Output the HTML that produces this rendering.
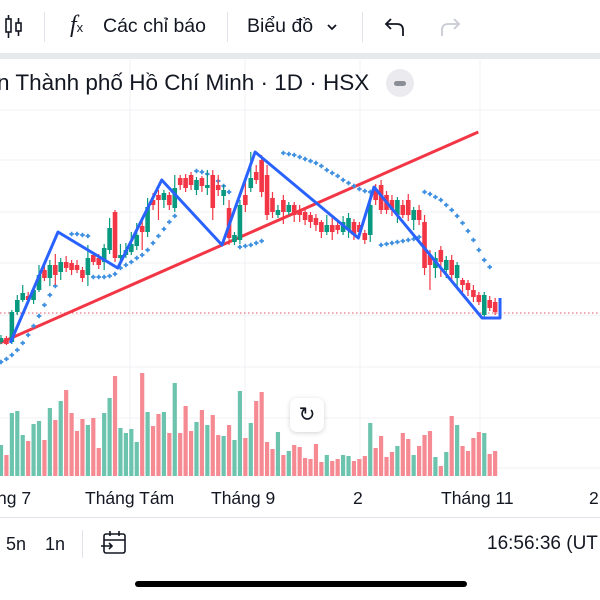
<!DOCTYPE html>
<html><head><meta charset="utf-8">
<style>
body{margin:0;width:600px;height:600px;overflow:hidden;background:#fff;font-family:"Liberation Sans","Noto Sans CJK SC",sans-serif;position:relative}
.t{position:absolute;white-space:nowrap;color:#131722}
</style></head><body>
<div style="position:absolute;left:0;top:0;width:600px;height:53px;background:#fff"></div>
<svg style="position:absolute;left:4px;top:14px" width="20" height="26" viewBox="0 0 20 26"><rect x="2" y="5" width="5" height="13" fill="none" stroke="#131722" stroke-width="1.6"/><line x1="4.5" y1="1" x2="4.5" y2="5" stroke="#131722" stroke-width="1.6"/><line x1="4.5" y1="18" x2="4.5" y2="24" stroke="#131722" stroke-width="1.6"/><rect x="12" y="9" width="5" height="8" fill="none" stroke="#131722" stroke-width="1.6"/><line x1="14.5" y1="4" x2="14.5" y2="9" stroke="#131722" stroke-width="1.6"/><line x1="14.5" y1="17" x2="14.5" y2="22" stroke="#131722" stroke-width="1.6"/></svg>
<div style="position:absolute;left:44px;top:12px;width:1px;height:30px;background:#e0e3eb"></div>
<div class="t" style="left:70px;top:12px;font-size:24px;font-family:'Liberation Serif',serif;font-style:italic">f<span style="font-size:13px;font-style:normal;font-family:'Liberation Sans',sans-serif">x</span></div>
<div class="t" style="left:103px;top:15px;font-size:19.5px">Các chỉ báo</div>
<div style="position:absolute;left:227px;top:12px;width:1px;height:30px;background:#e0e3eb"></div>
<div class="t" style="left:247px;top:15px;font-size:19.5px">Biểu đồ</div>
<svg style="position:absolute;left:326px;top:22px" width="12" height="10"><path d="M2 3 L6 7 L10 3" fill="none" stroke="#131722" stroke-width="1.8"/></svg>
<div style="position:absolute;left:362px;top:12px;width:1px;height:30px;background:#e0e3eb"></div>
<svg style="position:absolute;left:383px;top:16px" width="24" height="22"><path d="M8 3 L3 8 L8 13 M3 8 H14 Q20 8 20 14 V20" fill="none" stroke="#131722" stroke-width="1.8"/></svg>
<svg style="position:absolute;left:438px;top:16px" width="24" height="22"><path d="M16 3 L21 8 L16 13 M21 8 H10 Q4 8 4 14 V20" fill="none" stroke="#c8cbd3" stroke-width="1.8"/></svg>
<div style="position:absolute;left:0;top:53px;width:600px;height:6px;background:#e8e9ed"></div>

<svg id="chart" style="position:absolute;left:0;top:59px" width="600" height="460" viewBox="0 59 600 460"></svg>

<div class="t" style="left:-3px;top:70px;font-size:22.5px">n Thành phố Hồ Chí Minh · 1D · HSX</div>
<div style="position:absolute;left:386px;top:69px;width:28px;height:28px;border-radius:14px;background:#ebebef"><div style="position:absolute;left:8px;top:12px;width:12px;height:5px;border-radius:3px;background:#8a8d96"></div></div>
<div style="position:absolute;left:290px;top:398px;width:34px;height:34px;border-radius:7px;background:#fff;box-shadow:0 1px 5px rgba(0,0,0,0.18);text-align:center;line-height:34px;font-size:20px;color:#131722">↻</div>

<div>
<div class="t" style="left:-3px;top:488px;font-size:17.5px">ng 7</div>
<div class="t" style="left:85px;top:488px;font-size:17.5px">Tháng Tám</div>
<div class="t" style="left:211px;top:488px;font-size:17.5px">Tháng 9</div>
<div class="t" style="left:353px;top:488px;font-size:17.5px">2</div>
<div class="t" style="left:441px;top:488px;font-size:17.5px">Tháng 11</div>
<div class="t" style="left:589px;top:488px;font-size:17.5px">2</div>
</div>
<div style="position:absolute;left:0;top:517px;width:600px;height:1px;background:#e0e3eb"></div>
<div class="t" style="left:6px;top:534px;font-size:18px">5n</div>
<div class="t" style="left:45px;top:534px;font-size:18px">1n</div>
<div style="position:absolute;left:82px;top:530px;width:1px;height:28px;background:#e0e3eb"></div>
<svg style="position:absolute;left:100px;top:529px" width="28" height="28"><rect x="4" y="5" width="21" height="19" rx="2" fill="none" stroke="#131722" stroke-width="1.6"/><line x1="4" y1="11" x2="25" y2="11" stroke="#131722" stroke-width="1.6"/><line x1="10" y1="2" x2="10" y2="7" stroke="#131722" stroke-width="1.6"/><line x1="19" y1="2" x2="19" y2="7" stroke="#131722" stroke-width="1.6"/><path d="M1 17 H12 M9 14 L12 17 L9 20" fill="none" stroke="#131722" stroke-width="1.6"/></svg>
<div class="t" style="left:487px;top:533px;font-size:19px">16:56:36 (UT</div>
<div style="position:absolute;left:135px;top:581px;width:332px;height:6px;border-radius:3px;background:#000"></div>

<script>
const opens=[25.8,26.2,25.8,28.8,30.0,30.4,30.0,31.0,33.0,32.2,33.5,32.8,33.8,33.7,33.5,33.0,32.5,34.5,34.2,33.8,35.0,38.8,34.2,34.5,34.8,35.4,37.4,36.8,40.0,40.5,40.0,40.5,39.2,42.2,42.2,42.5,41.0,42.2,41.2,42.5,41.5,40.4,39.2,35.8,36.0,40.5,41.2,42.8,44.0,42.5,40.2,38.5,40.0,38.8,39.5,39.0,38.8,38.5,38.2,37.8,36.8,37.5,37.5,36.8,37.0,37.8,37.5,36.7,36.5,41.0,41.5,40.5,40.0,38.5,39.5,40.0,38.0,39.0,37.8,34.5,33.2,35.0,33.0,34.0,32.2,32.0,31.7,31.0,30.5,28.5,30.0,29.8];
const closes=[26.2,25.6,28.8,30.0,30.7,30.0,31.0,32.5,32.2,33.5,32.5,33.8,33.2,33.0,33.0,32.2,34.2,33.8,33.5,35.2,37.2,34.2,34.5,35.0,35.6,36.5,36.8,39.3,39.5,40.0,40.7,39.5,41.2,41.5,41.2,41.5,42.0,41.4,41.5,39.2,41.0,41.0,36.2,36.5,39.5,39.5,42.2,42.0,40.8,38.5,38.8,39.0,38.8,39.5,38.5,38.5,38.0,37.8,37.5,36.8,37.5,36.8,37.0,37.8,38.2,36.5,36.8,36.0,39.5,40.0,39.0,39.0,39.0,40.0,38.5,38.5,39.0,38.0,33.2,33.5,34.2,33.8,34.0,32.5,33.5,31.5,31.0,30.3,29.8,30.5,29.2,28.8];
const highs=[26.5,26.4,29.0,30.5,31.5,30.8,31.3,33.5,33.4,34.0,34.6,34.2,34.4,34.0,34.0,33.3,35.5,34.8,34.6,35.6,38.2,39.0,35.6,35.7,36.8,37.7,38.0,40.2,40.7,41.0,41.0,40.8,42.5,42.5,42.6,42.8,42.3,42.4,43.0,43.0,42.5,41.5,40.0,36.8,40.0,42.0,44.8,43.5,44.5,43.5,40.8,39.5,40.5,39.8,39.8,39.5,39.0,38.8,38.6,38.0,38.5,38.2,38.0,38.4,38.7,38.1,37.8,37.0,40.5,41.6,42.0,40.9,40.5,40.3,40.0,40.6,39.3,39.5,38.5,35.0,34.8,35.4,34.4,34.5,33.8,32.2,32.0,31.5,30.8,30.8,30.4,30.2];
const lows=[25.6,25.5,25.6,28.5,29.8,29.6,29.6,30.8,31.9,31.4,31.5,32.0,32.8,32.5,32.7,31.8,31.4,33.5,33.1,33.0,34.6,33.8,33.5,34.2,34.5,35.0,35.0,36.3,39.0,38.0,39.2,39.0,38.8,41.0,40.8,41.0,40.5,40.8,40.5,38.0,40.4,39.5,35.5,35.5,35.6,38.8,40.8,41.6,40.3,38.0,38.2,38.2,37.6,38.5,37.8,37.8,37.5,37.2,36.9,36.2,36.5,36.0,36.6,36.5,36.2,36.0,36.2,35.6,35.8,39.5,38.6,38.6,38.4,37.7,38.2,37.9,37.0,37.5,32.5,31.0,32.2,32.3,32.2,31.8,31.2,30.8,30.4,29.8,29.5,28.3,28.9,28.5];
const volumes=[31,21,63,65,41,35,52,55,36,68,56,75,86,63,45,57,51,58,28,63,78,100,48,43,47,34,103,64,50,62,64,43,93,43,70,45,54,66,51,61,41,40,51,36,85,38,53,75,84,34,27,44,21,25,31,29,18,17,32,14,21,15,17,21,20,15,17,20,53,28,40,19,24,30,43,37,21,30,41,45,19,10,24,60,51,30,25,38,44,43,22,25];
const sar=[23.8,24.1,24.5,25.0,25.7,26.5,27.4,28.4,29.5,30.5,31.4,null,null,36.6,36.6,36.5,36.4,32.3,32.3,32.3,32.4,32.6,33.2,33.5,33.8,34.2,34.5,35.0,35.7,36.4,37.1,37.8,38.4,null,null,null,42.9,42.8,42.6,42.3,41.9,41.4,40.8,null,35.3,35.4,35.5,35.7,35.9,null,null,null,44.7,44.6,44.5,44.3,44.1,43.9,43.7,43.4,43.0,42.7,42.4,42.0,41.7,41.4,41.1,40.9,40.8,null,35.5,35.6,35.7,35.8,35.9,36.0,36.1,36.3,40.8,40.6,40.3,40.0,39.5,39.0,38.4,37.7,36.9,36.0,35.0,34.0,33.3,null];
const zigIdx=[1.7,10.5,21.5,29.6,40.7,46.8,65.8,68.7,88.6,91.9,91.9];
const zigVal=[25.7,36.8,33.2,42.0,35.5,44.8,36.2,41.3,28.2,28.2,30.2];
const trendIdx=[-0.2,87.9];
const trendVal=[25.7,46.8];
const lastPrice=28.7;

const NS='http://www.w3.org/2000/svg';
const svg=document.getElementById('chart');
function xs(i){return 1+i*5.43;}
function ys(p){return 600-p*10;}
function vy(v){return 476-v;}
function mk(tag,attrs,parent){const e=document.createElementNS(NS,tag);for(const k in attrs)e.setAttribute(k,attrs[k]);(parent||svg).appendChild(e);return e;}
const UP='#089981',DN='#f23645',VUP='#6cc4ae',VDN='#f58a93';
const gridG=mk('g',{});


[110,160,212,263,315,367,418,468].forEach(y=>mk('line',{x1:0,x2:600,y1:y,y2:y,stroke:'#f0f1f4','stroke-width':1},gridG));
[130,245,360,480].forEach(x=>mk('line',{x1:x,x2:x,y1:59,y2:478,stroke:'#f0f1f4','stroke-width':1},gridG));
const volG=mk('g',{});


volumes.forEach((v,i)=>{const up=closes[i]>=opens[i];const r=mk('rect',{x:xs(i)-2.1,y:vy(v),width:4.2,height:v,fill:up?VUP:VDN},volG);

});
const lp=mk('line',{x1:0,x2:600,y1:ys(lastPrice),y2:ys(lastPrice),stroke:'#e05560','stroke-width':1,'stroke-dasharray':'1.5 2.5'});


const tl=mk('line',{x1:xs(trendIdx[0]),y1:ys(trendVal[0]),x2:xs(trendIdx[1]),y2:ys(trendVal[1]),stroke:'#f23645','stroke-width':3});


const sarG=mk('g',{});


sar.forEach((v,i)=>{if(v===null)return;const c=mk('path',{d:`M${xs(i)-2.3} ${ys(v)}h4.6M${xs(i)} ${ys(v)-2.3}v4.6`,stroke:'#3d8fe0','stroke-width':1.8},sarG);

});
const cG=mk('g',{});


opens.forEach((o,i)=>{const c=closes[i];const col=c>=o?UP:DN;const x=xs(i);
const g=mk('g',{},cG);


mk('line',{x1:x,x2:x,y1:ys(highs[i]),y2:ys(lows[i]),stroke:col,'stroke-width':1.2},g);
const top=ys(Math.max(o,c)),bot=ys(Math.min(o,c));
mk('rect',{x:x-2.3,y:top,width:4.6,height:Math.max(1.5,bot-top),fill:col},g);});
const zz=mk('polyline',{points:zigIdx.map((ix,k)=>xs(ix)+','+ys(zigVal[k])).join(' '),fill:'none',stroke:'#2962ff','stroke-width':3,'stroke-linejoin':'round'});


</script>
</body></html>
